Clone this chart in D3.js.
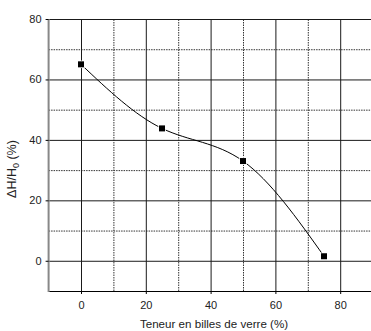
<!DOCTYPE html>
<html><head><meta charset="utf-8">
<script src="https://cdn.jsdelivr.net/npm/d3@7"></script>
<style>body{margin:0;background:#fff}svg{display:block}text{font-family:"Liberation Sans",Arial,sans-serif}</style>
</head><body><svg id="c" width="371" height="331"></svg>
<script>
const xValues = [0, 25, 50, 75];
const yValues = [65, 43.8, 33, 1.5];
const xMajorTicks = [0, 20, 40, 60, 80];
const xMinorTicks = [10, 30, 50, 70];
const yMajorTicks = [0, 20, 40, 60, 80];
const yMinorTicks = [10, 30, 50, 70];
const xLabel = "Teneur en billes de verre (%)";

const svg = d3.select("#c");
const L = 48.6, T = 19, B = 291, R = 372.6;
const x = d3.scaleLinear().domain([-10, 90]).range([L, R]);
const y = d3.scaleLinear().domain([-10, 80]).range([B, T]);
const W = R - L, H = B - T;

// minor dotted grid
svg.append("g").attr("transform", `translate(0,${B})`)
  .call(d3.axisBottom(x).tickValues(xMinorTicks).tickSize(-H).tickFormat(""))
  .call(g => g.select(".domain").remove())
  .call(g => g.selectAll("line").attr("stroke", "#333").attr("stroke-dasharray", "1.5,1"));
svg.append("g").attr("transform", `translate(${L},0)`)
  .call(d3.axisLeft(y).tickValues(yMinorTicks).tickSize(-W).tickFormat(""))
  .call(g => g.select(".domain").remove())
  .call(g => g.selectAll("line").attr("stroke", "#333").attr("stroke-dasharray", "1.5,1"));

// major grid
svg.append("g").attr("transform", `translate(0,${B})`)
  .call(d3.axisBottom(x).tickValues(xMajorTicks).tickSize(-H).tickFormat(""))
  .call(g => g.select(".domain").remove())
  .call(g => g.selectAll("line").attr("stroke", "#1a1a1a"));
svg.append("g").attr("transform", `translate(${L},0)`)
  .call(d3.axisLeft(y).tickValues(yMajorTicks).tickSize(-W).tickFormat(""))
  .call(g => g.select(".domain").remove())
  .call(g => g.selectAll("line").attr("stroke", "#1a1a1a"));

// bottom axis with labels
svg.append("g").attr("transform", `translate(0,${B})`)
  .call(d3.axisBottom(x).tickValues(xMajorTicks).tickSize(3).tickPadding(7).tickSizeOuter(0))
  .call(g => g.select(".domain").attr("d", `M${L},0.5H${R}`).attr("stroke", "#000"))
  .call(g => g.selectAll("line").attr("stroke", "#000"))
  .call(g => g.selectAll("text").attr("font-size", "11px").attr("fill", "#222").attr("font-family", "Liberation Sans, Arial, sans-serif"));
// left axis with labels
svg.append("g").attr("transform", `translate(${L},0)`)
  .call(d3.axisLeft(y).tickValues(yMajorTicks).tickSize(3).tickPadding(4).tickSizeOuter(0))
  .call(g => g.select(".domain").attr("d", `M0,${T}V${B+1}`).attr("stroke", "#888").attr("stroke-width", 2))
  .call(g => g.selectAll("line").attr("stroke", "#000"))
  .call(g => g.selectAll("text").attr("font-size", "11px").attr("fill", "#222").attr("font-family", "Liberation Sans, Arial, sans-serif"));

// curve
const data = xValues.map((v, i) => [v, yValues[i]]);
svg.append("path").datum(data)
  .attr("fill", "none").attr("stroke", "#000").attr("stroke-width", 1)
  .attr("d", d3.line().x(d => x(d[0])).y(d => y(d[1])).curve(d3.curveNatural));

// markers
svg.append("g").selectAll("rect").data(data).join("rect")
  .attr("x", d => x(d[0]) - 3).attr("y", d => y(d[1]) - 3)
  .attr("width", 6).attr("height", 6)
  .attr("fill", "#000").attr("stroke", "#fff").attr("stroke-width", 1.5)
  .attr("paint-order", "stroke");

// axis titles
svg.append("text").attr("x", 214).attr("y", 328).attr("text-anchor", "middle")
  .attr("font-size", "11.6px").attr("fill", "#222").text(xLabel);
const yt = svg.append("text").attr("transform", "translate(16,169) rotate(-90)")
  .attr("text-anchor", "middle").attr("font-size", "12.5px").attr("fill", "#222");
yt.append("tspan").text("\u0394H/H");
yt.append("tspan").attr("font-size", "9px").attr("dy", "3").text("0");
yt.append("tspan").attr("dy", "-3").text(" (%)");
</script></body></html>
